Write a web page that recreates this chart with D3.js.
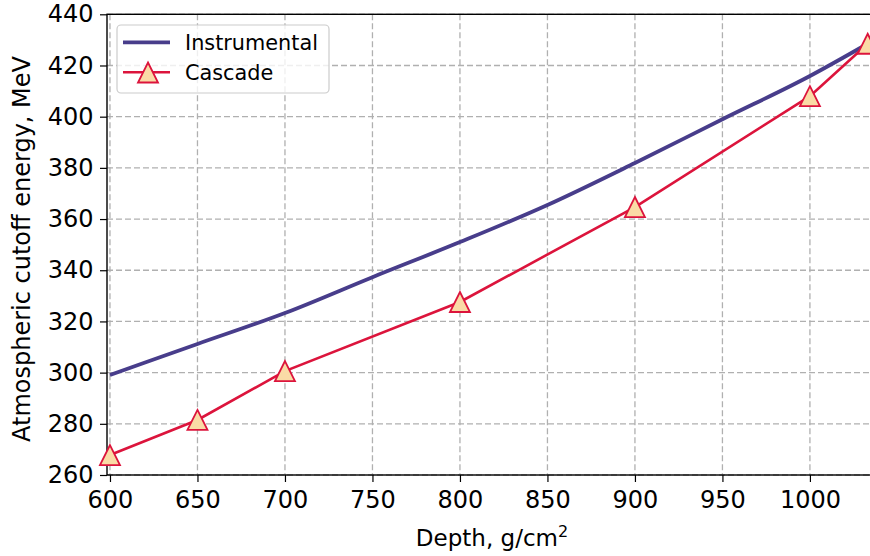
<!DOCTYPE html>
<html><head><meta charset="utf-8">
<script src="https://cdn.jsdelivr.net/npm/d3@7"></script>
<style>body{margin:0;background:#fff}svg{display:block}text{font-family:"DejaVu Sans",sans-serif}</style>
</head><body>
<svg id="c" width="870" height="556"></svg>
<script>
const instDepth = [600, 650, 700, 750, 800, 850, 900, 950, 1000, 1033];
const instEnergy = [299.1, 311.2, 323.3, 337.3, 351.0, 365.5, 381.9, 399.0, 415.9, 428.5];
const cascDepth = [600, 650, 700, 800, 900, 1000, 1033];
const cascEnergy = [267.8, 281.5, 300.6, 327.6, 364.7, 408.0, 428.5];
const xTicks = [600, 650, 700, 750, 800, 850, 900, 950, 1000];
const yTicks = [260, 280, 300, 320, 340, 360, 380, 400, 420, 440];

const svg = d3.select("#c");
const L = 107, R = 871, T = 14.3, B = 475;
const x = d3.scaleLinear().domain([598.3, 1034.9]).range([L, R]);
const y = d3.scaleLinear().domain([260, 440]).range([B, T]);

// grid
const g = svg.append("g");
g.selectAll(".gx").data(xTicks).join("line")
  .attr("x1", d => x(d)).attr("x2", d => x(d)).attr("y1", T).attr("y2", B)
  .attr("stroke", "#b0b0b0").attr("stroke-width", 1.3).attr("stroke-dasharray", "6,3");
g.selectAll(".gy").data(yTicks).join("line")
  .attr("x1", L).attr("x2", R).attr("y1", d => y(d)).attr("y2", d => y(d))
  .attr("stroke", "#b0b0b0").attr("stroke-width", 1.3).attr("stroke-dasharray", "6,3");

// axes
const xa = svg.append("g").attr("transform", `translate(0,${B})`)
  .call(d3.axisBottom(x).tickValues(xTicks).tickSize(7).tickPadding(9).tickFormat(d3.format("d")));
const ya = svg.append("g").attr("transform", `translate(${L},0)`)
  .call(d3.axisLeft(y).tickValues(yTicks).tickSize(7).tickPadding(6.5).tickFormat(d3.format("d")));
[xa, ya].forEach(a => {
  a.select(".domain").remove();
  a.selectAll("line").attr("stroke", "#000").attr("stroke-width", 1.2);
  a.selectAll("text").attr("font-size", 24).attr("fill", "#000").attr("font-family", "DejaVu Sans");
});
svg.append("rect").attr("x", L).attr("y", T).attr("width", R - L).attr("height", B - T)
  .attr("fill", "none").attr("stroke", "#000").attr("stroke-width", 1.4);

// lines
svg.append("path").datum(instDepth.map((d, i) => [d, instEnergy[i]]))
  .attr("d", d3.line().x(d => x(d[0])).y(d => y(d[1])).curve(d3.curveMonotoneX))
  .attr("fill", "none").attr("stroke", "#483D8B").attr("stroke-width", 3.8);
const cd = cascDepth.map((d, i) => [d, cascEnergy[i]]);
svg.append("path").datum(cd)
  .attr("d", d3.line().x(d => x(d[0])).y(d => y(d[1])))
  .attr("fill", "none").attr("stroke", "#DC143C").attr("stroke-width", 2.6);
const tri = "M0,-10L10,10L-10,10Z";
svg.selectAll(".m").data(cd).join("path")
  .attr("d", tri).attr("transform", d => `translate(${x(d[0])},${y(d[1])})`)
  .attr("fill", "#FADBA6").attr("stroke", "#DC143C").attr("stroke-width", 1.8).attr("stroke-linejoin", "miter");

// labels
svg.append("text").attr("x", 492).attr("y", 546).attr("text-anchor", "middle").attr("font-size", 23)
  .html('Depth, g/cm<tspan dy="-9" font-size="16">2</tspan>');
svg.append("text").attr("transform", "translate(30,249) rotate(-90)").attr("text-anchor", "middle")
  .attr("font-size", 24).text("Atmospheric cutoff energy, MeV");

// legend
const lg = svg.append("g");
lg.append("rect").attr("x", 117).attr("y", 25).attr("width", 212).attr("height", 68).attr("rx", 4)
  .attr("fill", "#fff").attr("fill-opacity", 0.8).attr("stroke", "#cccccc").attr("stroke-width", 1.2);
lg.append("line").attr("x1", 123).attr("x2", 170).attr("y1", 42.3).attr("y2", 42.3)
  .attr("stroke", "#483D8B").attr("stroke-width", 3.8);
lg.append("line").attr("x1", 123).attr("x2", 170).attr("y1", 72.3).attr("y2", 72.3)
  .attr("stroke", "#DC143C").attr("stroke-width", 2.6);
lg.append("path").attr("d", tri).attr("transform", "translate(148,72.5)")
  .attr("fill", "#FADBA6").attr("stroke", "#DC143C").attr("stroke-width", 1.8);
lg.append("text").attr("x", 185).attr("y", 49.8).attr("font-size", 20.8).text("Instrumental");
lg.append("text").attr("x", 185).attr("y", 80).attr("font-size", 20.8).text("Cascade");
</script>
</body></html>
